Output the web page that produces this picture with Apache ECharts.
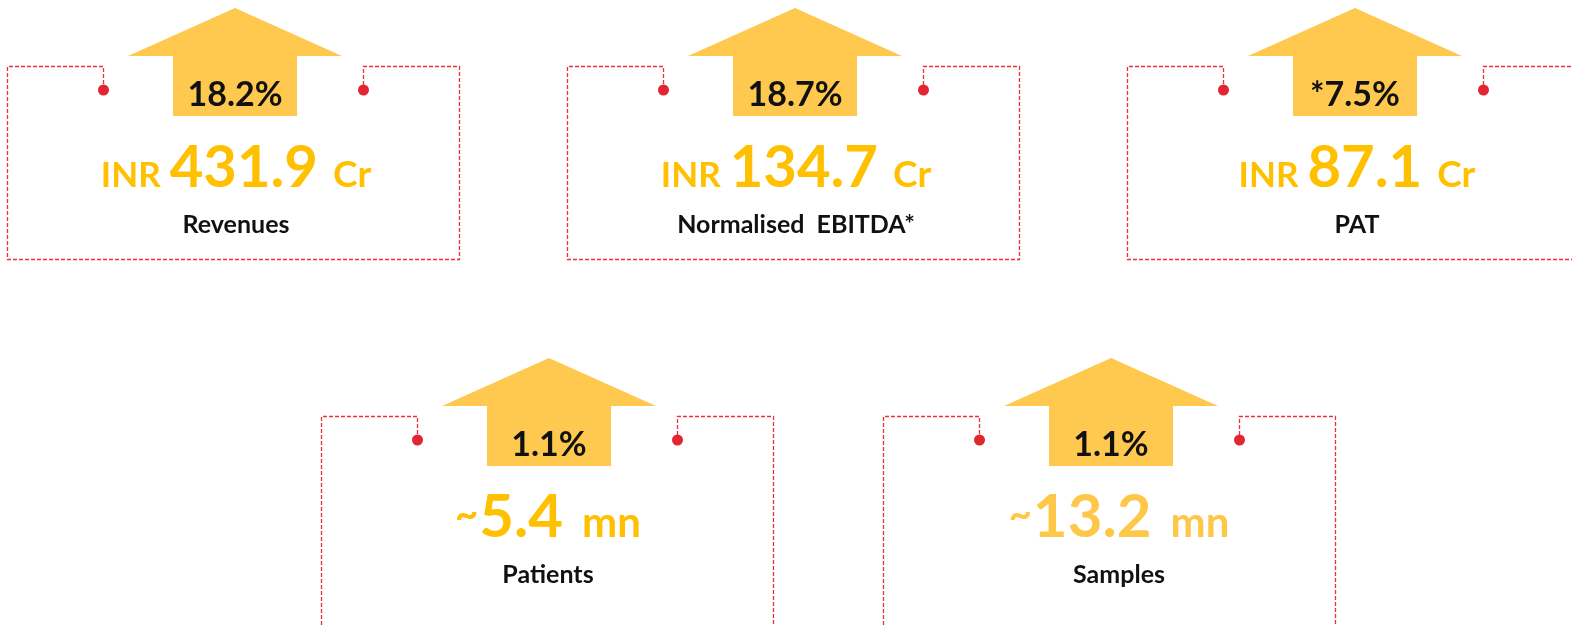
<!DOCTYPE html>
<html>
<head>
<meta charset="utf-8">
<title>Highlights</title>
<script src="https://cdn.jsdelivr.net/npm/echarts@6/dist/echarts.min.js"></script>
<style>
    html, body { margin: 0; padding: 0; background: #fff; }
    .echarts1 { width: 1572px; height: 625px; }
</style>
</head>
<body>
<div class="echarts1"></div>
<script>
// 数据
var metricNames = ['Revenues', 'Normalised  EBITDA*', 'PAT', 'Patients', 'Samples'];
var growthLabels = ['18.2%', '18.7%', '*7.5%', '1.1%', '1.1%'];
var valuePrefixes = ['INR', 'INR', 'INR', '~', '~'];
var metricValues = [431.9, 134.7, 87.1, 5.4, 13.2];
var valueUnits = ['Cr', 'Cr', 'Cr', 'mn', 'mn'];

// 布局 (card centre x, arrow tip y, box height, text shift)
var cardX = [233, 793, 1353, 547, 1109];
var cardY = [8, 8, 8, 358, 358];
var boxH = [251, 251, 251, 320, 320];
var textDx = [3, 3, 4, 1, 10];

var FONT = 'Lato, "Open Sans", sans-serif';
var WEIGHT = 'bold';
var ARROW = '#FFC94F';
var RED = '#E5323B';
var GOLD = ['#FFC000', '#FFC000', '#FFC000', '#FFC000', '#FFC748'];

var cv = document.createElement('canvas').getContext('2d');
function textWidth(size, s) {
    cv.font = WEIGHT + ' ' + size + 'px ' + FONT;
    return cv.measureText(s).width;
}
// distance from the 'middle' line down to the baseline
function midToBase(size) {
    cv.font = WEIGHT + ' ' + size + 'px ' + FONT;
    cv.textBaseline = 'middle';
    return cv.measureText('H').actualBoundingBoxDescent;
}

function txt(x, y, s, size, color, align) {
    return {
        type: 'text', x: x, y: y - midToBase(size), silent: true,
        style: { text: s, font: WEIGHT + ' ' + size + 'px ' + FONT, fill: color,
                 align: align || 'center', verticalAlign: 'middle' }
    };
}

var elements = [];
metricNames.forEach(function (name, i) {
    var cx = cardX[i], ty = cardY[i];
    var half = 226, top = ty + 58, bottom = ty + boxH[i], dotY = ty + 82;
    var dl = cx - 130, dr = cx + 130;

    // 虚线框
    elements.push({
        type: 'polyline', silent: true,
        shape: { points: [[dl + 0.5, dotY], [dl + 0.5, top + 0.5], [cx - half + 0.5, top + 0.5],
                          [cx - half + 0.5, bottom + 0.5], [cx + half + 0.5, bottom + 0.5],
                          [cx + half + 0.5, top + 0.5], [dr + 0.5, top + 0.5], [dr + 0.5, dotY]] },
        style: { stroke: RED, lineWidth: 1.3, lineDash: [4, 2], fill: null }
    });
    elements.push({ type: 'circle', silent: true, shape: { cx: dl + 0.5, cy: dotY, r: 5.5 }, style: { fill: '#E0262F' } });
    elements.push({ type: 'circle', silent: true, shape: { cx: dr + 0.5, cy: dotY, r: 5.5 }, style: { fill: '#E0262F' } });

    // 箭头
    var ax = cx + 2;
    elements.push({
        type: 'polygon', silent: true,
        shape: { points: [[ax, ty], [ax + 107, ty + 48], [ax + 62, ty + 48], [ax + 62, ty + 108],
                          [ax - 62, ty + 108], [ax - 62, ty + 48], [ax - 107, ty + 48]] },
        style: { fill: ARROW }
    });
    elements.push(txt(ax, ty + 98, growthLabels[i], 34, '#111'));

    // 数值
    var pre = valuePrefixes[i], num = String(metricValues[i]), unit = valueUnits[i];
    var tilde = pre === '~';
    var preSize = tilde ? 40 : 35, unitSize = tilde ? 42 : 37, numSize = tilde ? 60 : 58;
    var gap1 = tilde ? 1 : 9, gap2 = tilde ? 19 : 15;
    var w1 = textWidth(preSize, pre), w2 = textWidth(numSize, num), w3 = textWidth(unitSize, unit);
    var x0 = cx + textDx[i] - (w1 + gap1 + w2 + gap2 + w3) / 2;
    var base = ty + 179;
    elements.push(txt(x0, tilde ? base - 9 : base, pre, preSize, GOLD[i], 'left'));
    elements.push(txt(x0 + w1 + gap1, base, num, numSize, GOLD[i], 'left'));
    elements.push(txt(x0 + w1 + gap1 + w2 + gap2, base, unit, unitSize, GOLD[i], 'left'));

    // 名称
    elements.push(txt(cx + textDx[i], ty + 225, name, 25, '#111'));
});

var echarts1 = echarts.init(document.querySelector('.echarts1'));
echarts1.setOption({
    backgroundColor: '#fff',
    animation: false,
    graphic: { elements: elements }
});
</script>
</body>
</html>
